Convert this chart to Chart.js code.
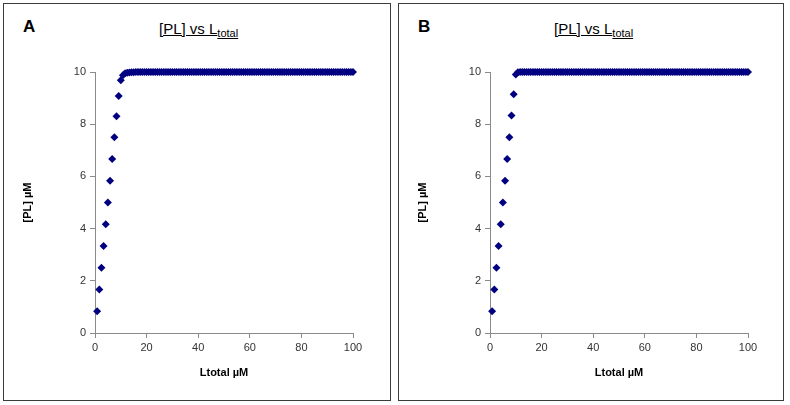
<!DOCTYPE html>
<html>
<head>
<meta charset="utf-8">
<script src="https://cdn.jsdelivr.net/npm/chart.js@4/dist/chart.umd.min.js"></script>
<style>
    body { margin: 0; background: #fff; font-family: "Liberation Sans", Arial, sans-serif; }
    .panel { position: absolute; top: 3px; height: 398px; box-sizing: border-box; border: 1px solid #3c3c3c; background: #fff; overflow: hidden; }
    .panel canvas { position: absolute; left: 0; top: 0; }
    .letter { position: absolute; left: 19px; top: 13px; font-size: 17px; font-weight: bold; color: #000; }
    .title { position: absolute; left: 155px; top: 16px; font-size: 15px; color: #000; text-decoration: underline; white-space: nowrap; }
    .title sub { font-size: 11px; color: #000; vertical-align: -3px; text-decoration: underline; }
</style>
</head>
<body>
<div class="panel" style="left:3px; width:388px;">
    <div class="letter">A</div>
    <div class="title">[PL] vs L<sub>total</sub></div>
    <canvas id="chartA" width="386" height="396"></canvas>
</div>
<div class="panel" style="left:398px; width:386px;">
    <div class="letter">B</div>
    <div class="title">[PL] vs L<sub>total</sub></div>
    <canvas id="chartB" width="384" height="396"></canvas>
</div>
<script>
// Ltotal (µM)
const lTotal = [
    0.83, 1.67, 2.5, 3.33, 4.17, 5,
    5.83, 6.67, 7.5, 8.33, 9.17, 10,
    10.83, 11.67, 12.5, 13.33, 14.17, 15,
    15.83, 16.67, 17.5, 18.33, 19.17, 20,
    20.83, 21.67, 22.5, 23.33, 24.17, 25,
    25.83, 26.67, 27.5, 28.33, 29.17, 30,
    30.83, 31.67, 32.5, 33.33, 34.17, 35,
    35.83, 36.67, 37.5, 38.33, 39.17, 40,
    40.83, 41.67, 42.5, 43.33, 44.17, 45,
    45.83, 46.67, 47.5, 48.33, 49.17, 50,
    50.83, 51.67, 52.5, 53.33, 54.17, 55,
    55.83, 56.67, 57.5, 58.33, 59.17, 60,
    60.83, 61.67, 62.5, 63.33, 64.17, 65,
    65.83, 66.67, 67.5, 68.33, 69.17, 70,
    70.83, 71.67, 72.5, 73.33, 74.17, 75,
    75.83, 76.67, 77.5, 78.33, 79.17, 80,
    80.83, 81.67, 82.5, 83.33, 84.17, 85,
    85.83, 86.67, 87.5, 88.33, 89.17, 90,
    90.83, 91.67, 92.5, 93.33, 94.17, 95,
    95.83, 96.67, 97.5, 98.33, 99.17, 100
];

// [PL] (µM), panel A
const plA = [
    0.83, 1.67, 2.5, 3.33, 4.17, 5,
    5.83, 6.67, 7.5, 8.3, 9.08, 9.68,
    9.88, 9.95, 9.97, 9.98, 9.99, 9.99,
    10, 10, 10, 10, 10, 10,
    10, 10, 10, 10, 10, 10,
    10, 10, 10, 10, 10, 10,
    10, 10, 10, 10, 10, 10,
    10, 10, 10, 10, 10, 10,
    10, 10, 10, 10, 10, 10,
    10, 10, 10, 10, 10, 10,
    10, 10, 10, 10, 10, 10,
    10, 10, 10, 10, 10, 10,
    10, 10, 10, 10, 10, 10,
    10, 10, 10, 10, 10, 10,
    10, 10, 10, 10, 10, 10,
    10, 10, 10, 10, 10, 10,
    10, 10, 10, 10, 10, 10,
    10, 10, 10, 10, 10, 10,
    10, 10, 10, 10, 10, 10,
    10, 10, 10, 10, 10, 10
];

// [PL] (µM), panel B
const plB = [
    0.83, 1.67, 2.5, 3.33, 4.17, 5,
    5.83, 6.67, 7.5, 8.33, 9.15, 9.9,
    9.99, 10, 10, 10, 10, 10,
    10, 10, 10, 10, 10, 10,
    10, 10, 10, 10, 10, 10,
    10, 10, 10, 10, 10, 10,
    10, 10, 10, 10, 10, 10,
    10, 10, 10, 10, 10, 10,
    10, 10, 10, 10, 10, 10,
    10, 10, 10, 10, 10, 10,
    10, 10, 10, 10, 10, 10,
    10, 10, 10, 10, 10, 10,
    10, 10, 10, 10, 10, 10,
    10, 10, 10, 10, 10, 10,
    10, 10, 10, 10, 10, 10,
    10, 10, 10, 10, 10, 10,
    10, 10, 10, 10, 10, 10,
    10, 10, 10, 10, 10, 10,
    10, 10, 10, 10, 10, 10,
    10, 10, 10, 10, 10, 10
];

const xTitle = 'Ltotal µM';
const yTitle = '[PL] µM';

function renderPanel(canvasId, yValues, padRight) {
    const ctx = document.getElementById(canvasId).getContext('2d');
    const axisColor = '#8a8a8a';
    const tickFont = { family: '"Liberation Sans", Arial, sans-serif', size: 11 };
    const titleFont = { family: '"Liberation Sans", Arial, sans-serif', size: 11, weight: 'bold' };

    return new Chart(ctx, {
        type: 'scatter',
        data: {
            datasets: [{
                data: lTotal.map((x, i) => ({ x: x, y: yValues[i] })),
                backgroundColor: '#000080',
                borderWidth: 0,
                pointStyle: 'rectRot',
                pointRadius: 4,
                pointHoverRadius: 4
            }]
        },
        options: {
            responsive: false,
            animation: false,
            clip: false,
            layout: { padding: { left: 8, top: 68, right: padRight, bottom: 8 } },
            plugins: {
                legend: { display: false },
                tooltip: { enabled: false }
            },
            scales: {
                x: {
                    type: 'linear',
                    min: 0,
                    max: 100,
                    afterFit: (s) => { s.height = 59; },
                    ticks: { stepSize: 20, color: '#333', font: tickFont, padding: 3 },
                    grid: { drawOnChartArea: false, tickLength: 5, color: axisColor },
                    border: { color: axisColor },
                    title: { display: true, text: xTitle, color: '#000', font: titleFont, padding: { bottom: 12 } }
                },
                y: {
                    min: 0,
                    max: 10,
                    afterFit: (s) => { s.width = 83; },
                    ticks: { stepSize: 2, color: '#333', font: tickFont, padding: 4 },
                    grid: { drawOnChartArea: false, tickLength: 5, color: axisColor },
                    border: { color: axisColor },
                    title: { display: true, text: yTitle, color: '#000', font: titleFont, padding: { top: 9 } }
                }
            }
        }
    });
}

renderPanel('chartA', plA, 37);
renderPanel('chartB', plB, 35);
</script>
</body>
</html>
